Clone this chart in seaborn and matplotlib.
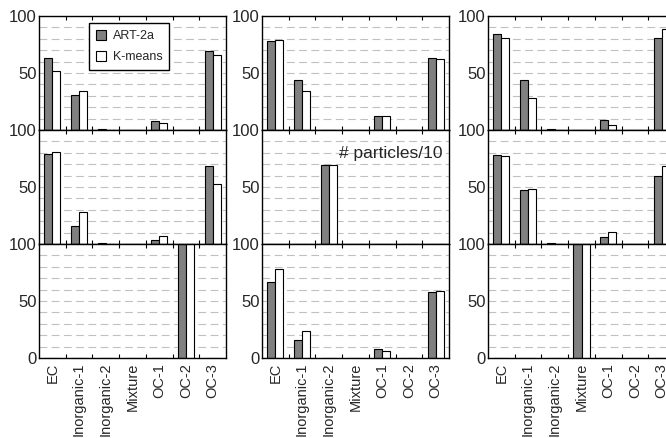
"""
ART-2a 与 K-means 聚类结果对比 - 3x3 柱状图
"""
import matplotlib
matplotlib.use('Agg')
import matplotlib.pyplot as plt
import pandas as pd
import seaborn as sns

categories = ['EC', 'Inorganic-1', 'Inorganic-2', 'Mixture', 'OC-1', 'OC-2', 'OC-3']
methods = ['ART-2a', 'K-means']

# 第一行
art_11 = [63, 31, 1, 0, 8, 0, 69]
km_11 = [52, 34, 0, 0, 6, 0, 66]
art_12 = [78, 44, 0, 0, 12, 0, 63]
km_12 = [79, 34, 0, 0, 12, 0, 62]
art_13 = [84, 44, 1, 0, 9, 0, 81]
km_13 = [81, 28, 0, 0, 4, 0, 89]
# 第二行
art_21 = [79, 16, 1, 0, 3.5, 0, 68]
km_21 = [81, 28, 0, 0, 7, 0, 53]
art_22 = [0, 0, 69, 0, 0, 0, 0]
km_22 = [0, 0, 69, 0, 0, 0, 0]
art_23 = [78, 47, 1, 0, 6, 0, 59.5]
km_23 = [77, 48.5, 0, 0, 10.5, 0, 68.5]
# 第三行
art_31 = [0, 0, 0, 0, 0, 100, 0]
km_31 = [0, 0, 0, 0, 0, 100, 0]
art_32 = [67, 15.5, 0, 0, 7.5, 0, 57.5]
km_32 = [78, 24, 0, 0, 6.5, 0, 58.5]
art_33 = [0, 0, 0, 100, 0, 0, 0]
km_33 = [0, 0, 0, 100, 0, 0, 0]

panels = [
    [(art_11, km_11), (art_12, km_12), (art_13, km_13)],
    [(art_21, km_21), (art_22, km_22), (art_23, km_23)],
    [(art_31, km_31), (art_32, km_32), (art_33, km_33)],
]

sns.set_style('white')
plt.rcParams['font.family'] = ['Liberation Sans', 'DejaVu Sans']

FIG_W, FIG_H = 666, 438
lefts = [39, 262, 488]
tops = [16, 130, 244]
W, H = 187, 114

fig = plt.figure(figsize=(FIG_W / 100, FIG_H / 100), dpi=100)

for r in range(3):
    for c in range(3):
        ax = fig.add_axes([lefts[c] / FIG_W, 1 - (tops[r] + H) / FIG_H, W / FIG_W, H / FIG_H])
        art, km = panels[r][c]
        df = pd.DataFrame({
            'category': categories * 2,
            'method': [methods[0]] * len(categories) + [methods[1]] * len(categories),
            'value': art + km,
        })
        sns.barplot(data=df, x='category', y='value', hue='method',
                    order=categories, hue_order=methods,
                    palette={'ART-2a': '#808080', 'K-means': 'white'},
                    edgecolor='black', linewidth=0.8, width=0.6,
                    legend=False, ax=ax)

        ax.set_xlim(-0.5, len(categories) - 0.5)
        ax.set_ylim(0, 100)
        ax.set_xlabel('')
        ax.set_ylabel('')

        # y 轴刻度与虚线网格
        ax.set_yticks([0, 50, 100] if r == 2 else [50, 100])
        ax.set_yticks(range(10, 100, 10), minor=True)
        ax.yaxis.grid(True, which='both', color='#c0c0c0', linestyle=(0, (7, 4)), linewidth=0.8)
        ax.set_axisbelow(True)
        ax.tick_params(axis='y', which='major', labelsize=12, length=0, pad=1.5)
        ax.tick_params(axis='y', which='minor', length=0)

        # x 轴：标签在类别中心，刻度线在类别边界
        ax.set_xticks([i + 0.5 for i in range(len(categories) - 1)], minor=True)
        ax.tick_params(axis='x', which='major', length=0, labelsize=10.5,
                       labelrotation=90, labelbottom=(r == 2))
        ax.tick_params(axis='x', which='minor', direction='in', length=3,
                       width=0.8, top=True, bottom=True, color='black')

        for sp in ax.spines.values():
            sp.set_visible(True)
            sp.set_color('black')
            sp.set_linewidth(1.0)

        if r == 0 and c == 0:
            ax.legend(ax.containers, methods, loc='upper left',
                      bbox_to_anchor=(0.267, 0.94), borderaxespad=0,
                      fontsize=9, frameon=True, fancybox=False, framealpha=1,
                      edgecolor='black', handlelength=0.85, handleheight=0.85,
                      handletextpad=0.5, labelspacing=0.7, borderpad=0.55)
        if r == 1 and c == 1:
            ax.text(0.963, 0.79, '# particles/10', transform=ax.transAxes,
                    ha='right', va='center', fontsize=12.5)

fig.savefig('out.png', dpi=100)
plt.close(fig)
